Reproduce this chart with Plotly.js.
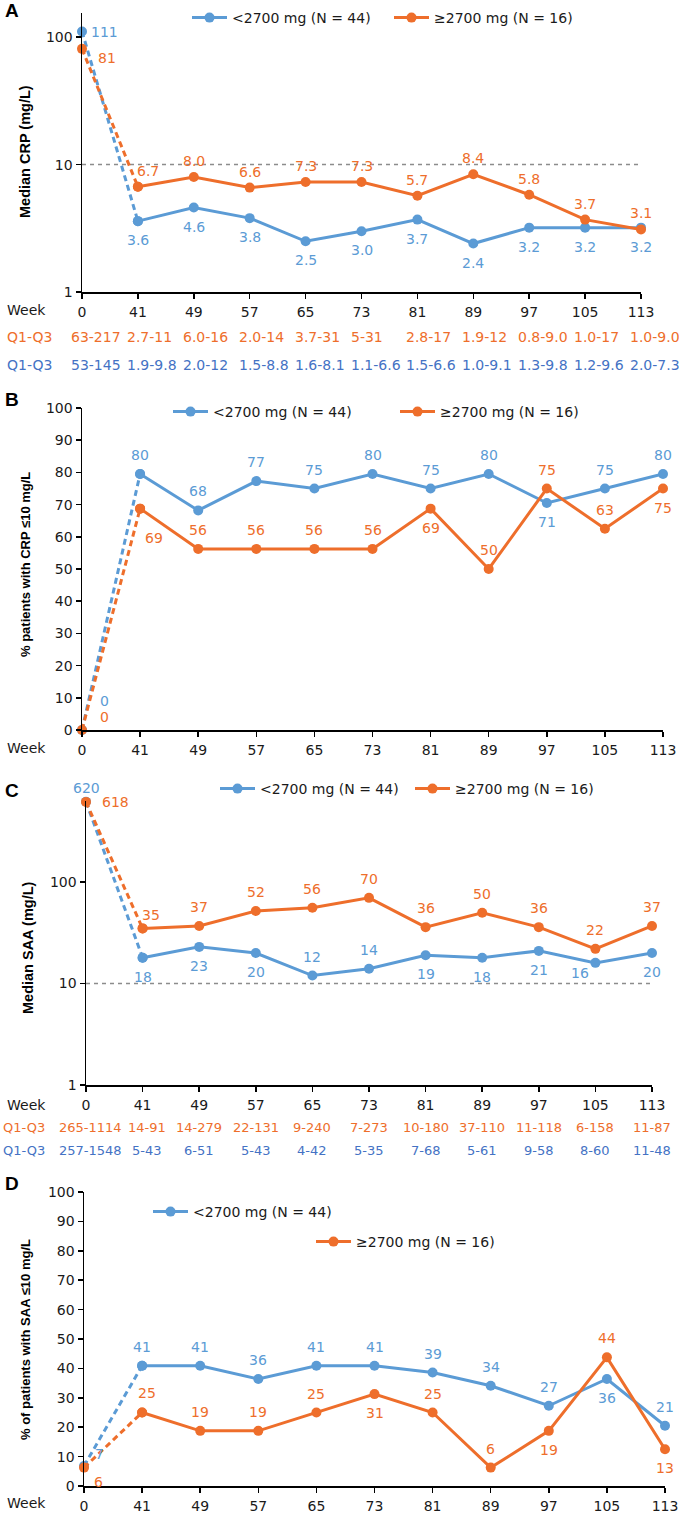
<!DOCTYPE html>
<html><head><meta charset="utf-8">
<script src="https://cdn.plot.ly/plotly-3.0.1.min.js"></script>
<style>body{margin:0;background:#fff}#c{width:679px;height:1525px}</style>
</head><body><div id="c"></div>
<script>
// ---------- data ----------
const weeks = ['0','41','49','57','65','73','81','89','97','105','113'];
const nameLow = '<2700 mg (N = 44)';
const nameHigh = '≥2700 mg (N = 16)';
const refLevel = 10;

// Panel A: median CRP
const crpLow  = [111,3.6,4.6,3.8,2.5,3.0,3.7,2.4,3.2,3.2,3.2];
const crpHigh = [81,6.7,8.0,6.6,7.3,7.3,5.7,8.4,5.8,3.7,3.1];
const crpQHigh = ['63-217','2.7-11','6.0-16','2.0-14','3.7-31','5-31','2.8-17','1.9-12','0.8-9.0','1.0-17','1.0-9.0'];
const crpQLow  = ['53-145','1.9-9.8','2.0-12','1.5-8.8','1.6-8.1','1.1-6.6','1.5-6.6','1.0-9.1','1.3-9.8','1.2-9.6','2.0-7.3'];

// Panel B: % patients with CRP <=10
const crpPctLow  = [0,79.5,68.2,77.3,75,79.5,75,79.5,70.5,75,79.5];
const crpPctHigh = [0,68.75,56.25,56.25,56.25,56.25,68.75,50,75,62.5,75];

// Panel C: median SAA
const saaLow  = [620,18,23,20,12,14,19,18,21,16,20];
const saaHigh = [618,35,37,52,56,70,36,50,36,22,37];
const saaQHigh = ['265-1114','14-91','14-279','22-131','9-240','7-273','10-180','37-110','11-118','6-158','11-87'];
const saaQLow  = ['257-1548','5-43','6-51','5-43','4-42','5-35','7-68','5-61','9-58','8-60','11-48'];

// Panel D: % patients with SAA <=10
const saaPctLow  = [6.8,40.9,40.9,36.4,40.9,40.9,38.6,34.1,27.3,36.4,20.5];
const saaPctHigh = [6.25,25,18.75,18.75,25,31.25,25,6.25,18.75,43.75,12.5];

// label placement codes (style only)
const posA_low  = ['r111','b','b','b','b','b','b','b','b','b','b'];
const posA_high = ['rb81','ra67','a16','a16','a16','a16','a16','a16','a16','a16','a16'];
const posB_low  = ['z1','a','a','a','a','a','a','a','b','a','a'];
const posB_high = ['z2','rb2','a','a','a','a','b','a','a','a','b'];
const posC_low  = ['a14','b','b','b','a','a','b','b','b','lb','b'];
const posC_high = ['r14','ra35','a','a','a','a','a','a','a','a','a'];
const posD_low  = ['ra7','a','a','a','a','a','a','a','a','b','a'];
const posD_high = ['rb6','ra25','a','a','a','b','a','a','b','a','b'];

// ---------- styling ----------
const blue='#5B9BD5', orange='#EE6E2B', qBlue='#4472C4', gray='#8c8c8c', ink='#1a1a1a';
const F='DejaVu Sans, sans-serif', FB='Liberation Sans, Arial, sans-serif';
const W=679, H=1525;
const px=x=>x/W, py=y=>1-y/H;
const shiftMap = {
  a:[0,19,'center'], b:[0,-19,'center'], a16:[0,16,'center'], ra67:[10,16,'center'],
  r111:[7,-1,'left'], rb81:[14,-9,'left'],
  z1:[22,29,'center'], z2:[22,13,'center'], rb2:[14,-29,'center'],
  a14:[0,14,'center'], r14:[14,0,'left'], ra35:[8,13,'center'], lb:[-15,-10,'center'],
  ra7:[15,12,'center'], rb6:[14,-14,'center'], ra25:[5,20,'center']
};
const fmtDec = v => v>=10 ? String(Math.round(v)) : v.toFixed(1);
const fmtInt = v => String(Math.round(v));

const panels = [
 {letter:'A', letterY:10, xd:[82,641], yd:[292,13], log:true, range:[0,2.19], tv:[1,10,100],
  low:crpLow, high:crpHigh, pl:posA_low, ph:posA_high, fmt:fmtDec, ref:true,
  q:[crpQHigh,crpQLow], qy:[337,365], qAlign:'left', qShift:-13, qColShift:[0,0], qLabelX:5, qSize:14, weekY:310,
  title:'Median CRP (mg/L)', titleY:152, titleX:25, titleSize:14.5, leg:[[207,18],[409,18]]},
 {letter:'B', letterY:399, xd:[82,663], yd:[730,408], log:false, range:[0,100], tv:[0,10,20,30,40,50,60,70,80,90,100],
  low:crpPctLow, high:crpPctHigh, pl:posB_low, ph:posB_high, fmt:fmtInt, ref:false,
  q:null, weekY:748,
  title:'% patients with CRP ≤10 mg/L', titleY:565, titleX:25, titleSize:13, leg:[[188,412],[415,412]]},
 {letter:'C', letterY:790, xd:[86,652], yd:[1085,801], log:true, range:[0,2.8], tv:[1,10,100],
  low:saaLow, high:saaHigh, pl:posC_low, ph:posC_high, fmt:fmtInt, ref:true,
  q:[saaQHigh,saaQLow], qy:[1127,1150], qAlign:'center', qShift:0, qColShift:[4,4], qLabelX:1, qSize:13, weekY:1105,
  title:'Median SAA (mg/L)', titleY:948, titleX:28, titleSize:14.5, leg:[[235,789],[430,789]]},
 {letter:'D', letterY:1183, xd:[84,665], yd:[1486,1192], log:false, range:[0,100], tv:[0,10,20,30,40,50,60,70,80,90,100],
  low:saaPctLow, high:saaPctHigh, pl:posD_low, ph:posD_high, fmt:fmtInt, ref:false,
  q:null, weekY:1503,
  title:'% of patients with SAA ≤10 mg/L', titleY:1340, titleX:25, titleSize:13, leg:[[168,1212],[331,1242]]}
];

const idx = weeks.map((w,i)=>i);
const traces=[], annotations=[];
const layout = {width:W, height:H, margin:{l:0,r:0,t:0,b:0}, paper_bgcolor:'#fff', plot_bgcolor:'rgba(0,0,0,0)',
  font:{family:F, size:14, color:ink}, showlegend:true, annotations};
let legN = 1;

panels.forEach((p,pi)=>{
  const n = pi===0 ? '' : String(pi+1);
  const xa='x'+n, ya='y'+n;
  layout['xaxis'+n] = {domain:[px(p.xd[0]),px(p.xd[1])], anchor:ya, range:[0,10], tickvals:idx, ticktext:weeks,
    showline:true, linecolor:'#000', linewidth:1.5, ticks:'outside', ticklen:5, tickwidth:1.5, tickcolor:'#000',
    showgrid:false, zeroline:false, tickfont:{size:14, color:ink}, ticklabelstandoff:2, fixedrange:true};
  layout['yaxis'+n] = {domain:[py(p.yd[0]),py(p.yd[1])], anchor:xa, type:p.log?'log':'linear', range:p.range,
    tickvals:p.tv, ticktext:p.tv.map(String), showline:true, linecolor:'#000', linewidth:1.5, ticks:'outside', ticklen:5,
    tickwidth:1.5, tickcolor:'#000', showgrid:false, zeroline:false, tickfont:{size:14, color:ink}, fixedrange:true};

  if(p.ref){
    traces.push({x:[0,10], y:[refLevel,refLevel], xaxis:xa, yaxis:ya, mode:'lines', showlegend:false, hoverinfo:'skip',
      line:{color:gray, width:1.5, dash:'4px,4px'}, cliponaxis:false});
  }
  [[p.low,blue,nameLow,p.pl,0],[p.high,orange,nameHigh,p.ph,1]].forEach(([vals,col,name,pos,si])=>{
    traces.push({x:[0,1], y:vals.slice(0,2), xaxis:xa, yaxis:ya, mode:'lines+markers', showlegend:false,
      line:{color:col, width:3, dash:'6px,4px'}, marker:{color:col, size:10}, cliponaxis:false, hoverinfo:'skip'});
    const lg = 'legend'+(legN===1?'':legN);
    traces.push({x:idx.slice(1), y:vals.slice(1), xaxis:xa, yaxis:ya, mode:'lines+markers', name:name, legend:lg,
      line:{color:col, width:3}, marker:{color:col, size:10}, cliponaxis:false});
    const [lx,ly] = p.leg[si];
    layout[lg] = {x:px(lx-20), y:py(ly), xanchor:'left', yanchor:'middle', orientation:'h', bgcolor:'rgba(0,0,0,0)',
      font:{family:F, size:14, color:ink}, borderwidth:0, itemwidth:35};
    legN++;
    vals.forEach((v,i)=>{
      const s = shiftMap[pos[i]];
      annotations.push({x:i, y:p.log?Math.log10(v):v, xref:xa, yref:ya, text:p.fmt(v), showarrow:false,
        xanchor:s[2], yanchor:'middle', xshift:s[0], yshift:s[1], font:{family:F, size:14, color:col}});
    });
  });

  // row labels & tables
  annotations.push({x:px(5), y:py(p.weekY), xref:'paper', yref:'paper', text:'Week', showarrow:false,
    xanchor:'left', yanchor:'middle', font:{family:F, size:14, color:ink}});
  if(p.q){
    [[p.q[0],orange],[p.q[1],qBlue]].forEach(([row,col],ri)=>{
      annotations.push({x:px(p.qLabelX), y:py(p.qy[ri]), xref:'paper', yref:'paper', text:'Q1-Q3', showarrow:false,
        xanchor:'left', yanchor:'middle', font:{family:F, size:p.qSize, color:col}});
      row.forEach((t,i)=>{
        annotations.push({x:i, y:py(p.qy[ri]), xref:xa, yref:'paper', text:t, showarrow:false,
          xanchor:p.qAlign, xshift:p.qShift + (i<2?p.qColShift[i]:0), yanchor:'middle', font:{family:F, size:p.qSize, color:col}});
      });
    });
  }
  annotations.push({x:px(p.titleX), y:py(p.titleY), xref:'paper', yref:'paper', text:p.title, showarrow:false,
    textangle:-90, xanchor:'center', yanchor:'middle', font:{family:FB, size:p.titleSize, color:'#000', weight:'bold'}});
  annotations.push({x:px(3), y:py(p.letterY), xref:'paper', yref:'paper', text:p.letter, showarrow:false,
    xanchor:'left', yanchor:'middle', font:{family:FB, size:19, color:'#000', weight:'bold'}});
});

Plotly.newPlot('c', traces, layout, {staticPlot:true, displayModeBar:false});
</script></body></html>
